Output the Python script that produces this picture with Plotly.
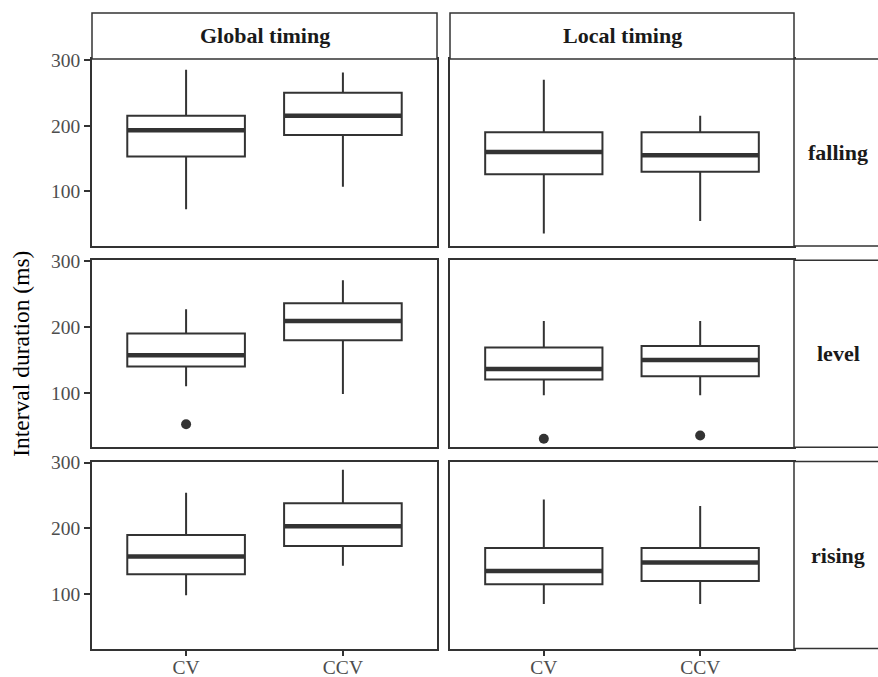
import plotly.graph_objects as go

# ---------------- data ----------------
categories = ["CV", "CCV"]
timings = ["Global timing", "Local timing"]
contours = ["falling", "level", "rising"]

# indexed [contour][timing][category]
whisker_low = [[[73, 107], [36, 55]],
               [[110, 98], [96, 96]],
               [[98, 143], [85, 85]]]
q1 = [[[153, 186], [126, 130]],
      [[140, 180], [120, 125]],
      [[130, 173], [115, 120]]]
median = [[[193, 215], [160, 155]],
          [[157, 209], [136, 150]],
          [[157, 203], [135, 148]]]
q3 = [[[215, 250], [190, 190]],
      [[190, 236], [169, 171]],
      [[190, 238], [170, 170]]]
whisker_high = [[[285, 281], [270, 215]],
                [[227, 271], [209, 209]],
                [[254, 289], [244, 234]]]

outlier_contour = ["level", "level", "level"]
outlier_timing = ["Global timing", "Local timing", "Local timing"]
outlier_category = ["CV", "CV", "CCV"]
outlier_value = [52, 30, 35]

y_ticks = [100, 200, 300]
y_title = "Interval duration (ms)"

# ---------------- style / layout ----------------
W, H = 878, 677
DARK = "#333333"
FONT = "Liberation Serif"
col_px = [(92, 437), (450, 794)]
row_px = [(59, 246), (260.3, 447.3), (461.6, 648.6)]
strip_top = 13
row_strip_right = 884
box_width = 0.75
positions = [1, 2]
TICK_SIZE = 19.5
STRIP_SIZE = 22
TITLE_SIZE = 23.5


def px_x(v):
    return v / W


def px_y(v):
    return 1 - v / H


fig = go.Figure()
layout = {}
shapes = []
annotations = []

for r in range(3):
    for c in range(2):
        k = r * 2 + c + 1
        sx = "" if k == 1 else str(k)
        xa, ya = "x" + sx, "y" + sx
        fig.add_trace(go.Box(
            x=positions, q1=q1[r][c], median=median[r][c], q3=q3[r][c],
            lowerfence=whisker_low[r][c], upperfence=whisker_high[r][c],
            width=box_width, whiskerwidth=0, fillcolor="white",
            line=dict(color=DARK, width=2), boxpoints=False,
            xaxis=xa, yaxis=ya, showlegend=False, hoverinfo="skip"))
        for i, p in enumerate(positions):
            fig.add_trace(go.Scatter(
                x=[p - box_width / 2, p + box_width / 2],
                y=[median[r][c][i], median[r][c][i]],
                mode="lines", line=dict(color=DARK, width=4.5),
                xaxis=xa, yaxis=ya, showlegend=False, hoverinfo="skip"))
        ox, oy = [], []
        for oc, ot, ocat, ov in zip(outlier_contour, outlier_timing,
                                    outlier_category, outlier_value):
            if oc == contours[r] and ot == timings[c]:
                ox.append(positions[categories.index(ocat)])
                oy.append(ov)
        if ox:
            fig.add_trace(go.Scatter(
                x=ox, y=oy, mode="markers",
                marker=dict(color=DARK, size=10),
                xaxis=xa, yaxis=ya, showlegend=False, hoverinfo="skip"))

        x0, x1 = col_px[c]
        yt, yb = row_px[r]
        layout["xaxis" + sx] = dict(
            domain=[px_x(x0), px_x(x1)], anchor=ya, range=[0.4, 2.6],
            tickvals=positions, ticktext=categories,
            showticklabels=(r == 2), ticks="outside" if r == 2 else "",
            ticklen=6, tickwidth=1.5, tickcolor=DARK, ticklabelstandoff=-6,
            tickfont=dict(family=FONT, size=TICK_SIZE, color="#4D4D4D"),
            showgrid=False, zeroline=False, showline=True, mirror=True,
            linecolor=DARK, linewidth=1.5, fixedrange=True, automargin=False)
        layout["yaxis" + sx] = dict(
            domain=[px_y(yb), px_y(yt)], anchor=xa, range=[17, 301.5],
            tickvals=y_ticks, showticklabels=(c == 0),
            ticks="outside" if c == 0 else "",
            ticklen=6, tickwidth=1.5, tickcolor=DARK,
            tickfont=dict(family=FONT, size=TICK_SIZE, color="#4D4D4D"),
            showgrid=False, zeroline=False, showline=True, mirror=True,
            linecolor=DARK, linewidth=1.5, fixedrange=True, automargin=False)

# column strips
for c, name in enumerate(timings):
    x0, x1 = col_px[c]
    shapes.append(dict(type="rect", xref="paper", yref="paper",
                       x0=px_x(x0), x1=px_x(x1), y0=px_y(row_px[0][0]), y1=px_y(strip_top),
                       fillcolor="white", line=dict(color=DARK, width=1.5), layer="above"))
    annotations.append(dict(text="<b>" + name + "</b>", xref="paper", yref="paper",
                            x=px_x((x0 + x1) / 2), y=px_y((strip_top + row_px[0][0]) / 2),
                            showarrow=False, xanchor="center", yanchor="middle",
                            font=dict(family=FONT, size=STRIP_SIZE, color="#1A1A1A")))

# row strips
for r, name in enumerate(contours):
    yt, yb = row_px[r]
    x0 = col_px[1][1]
    shapes.append(dict(type="rect", xref="paper", yref="paper",
                       x0=px_x(x0), x1=px_x(row_strip_right), y0=px_y(yb), y1=px_y(yt),
                       fillcolor="white", line=dict(color=DARK, width=1.5), layer="above"))
    annotations.append(dict(text="<b>" + name + "</b>", xref="paper", yref="paper",
                            x=px_x(838), y=px_y((yt + yb) / 2),
                            showarrow=False, xanchor="center", yanchor="middle",
                            font=dict(family=FONT, size=STRIP_SIZE, color="#1A1A1A")))

annotations.append(dict(text=y_title, xref="paper", yref="paper",
                        x=px_x(21), y=px_y((row_px[0][0] + row_px[2][1]) / 2),
                        textangle=-90, showarrow=False, xanchor="center", yanchor="middle",
                        font=dict(family=FONT, size=TITLE_SIZE, color="black")))

fig.update_layout(
    width=W, height=H, autosize=False,
    margin=dict(l=0, r=0, t=0, b=0, autoexpand=False),
    paper_bgcolor="white", plot_bgcolor="white",
    showlegend=False, shapes=shapes, annotations=annotations,
    **layout)

fig.write_html("out.html",
               config=dict(displayModeBar=False),
               post_script="document.body.style.margin='0px';"
                           "document.body.style.padding='0px';"
                           "document.body.style.overflow='hidden';")
